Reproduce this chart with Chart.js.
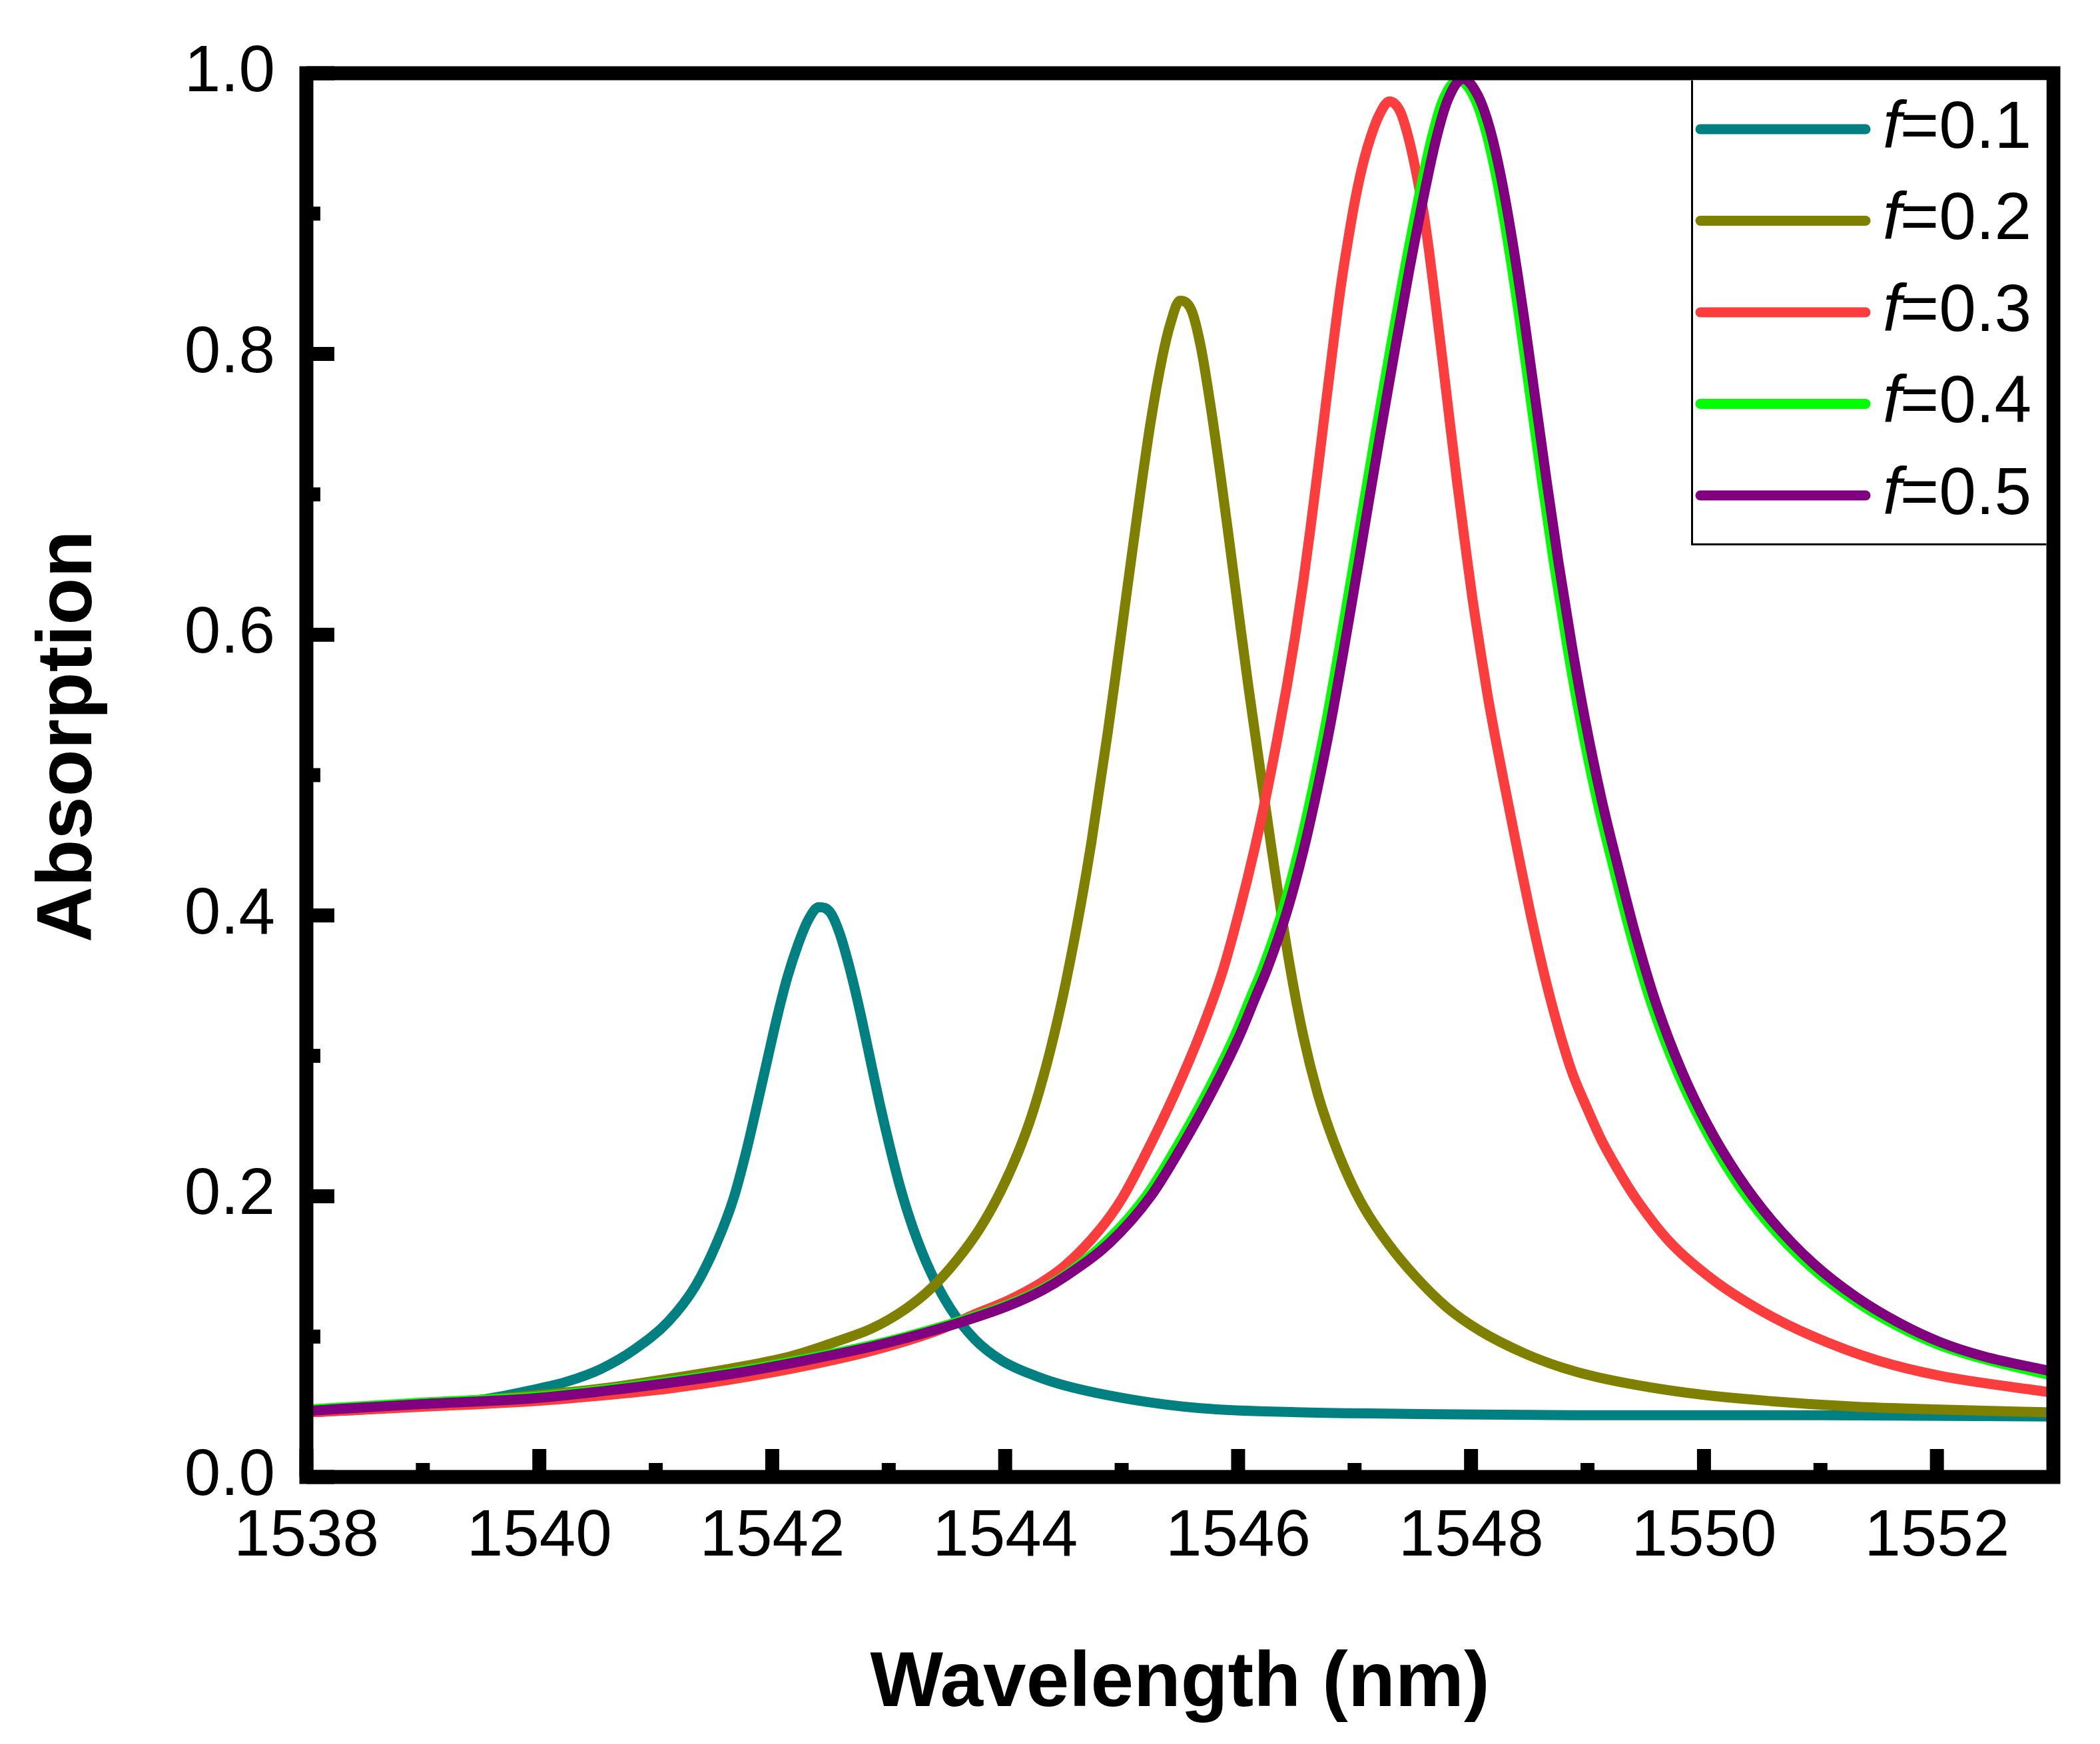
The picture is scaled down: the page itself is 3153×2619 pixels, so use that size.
<!DOCTYPE html>
<html>
<head>
<meta charset="utf-8">
<script src="https://cdn.jsdelivr.net/npm/chart.js@4.4.1/dist/chart.umd.min.js"></script>
<style>
    html, body { margin: 0; padding: 0; background: #ffffff; }
    #wrap { width: 3153px; height: 2619px; position: relative; }
</style>
</head>
<body>
<div id="wrap"><canvas id="absChart"></canvas></div>
<script>
// ==========================
// Data
// ==========================

const fValues = ["0.1", "0.2", "0.3", "0.4", "0.5"];
const seriesColors = ["#008080", "#808000", "#FC3D3D", "#00FF00", "#800080"];

const wlF01 = [1538, 1538.5, 1539, 1539.5, 1539.94, 1540.24, 1540.53, 1540.82, 1541.11, 1541.34, 1541.52, 1541.67, 1541.78, 1541.87, 1541.96, 1542.04, 1542.13, 1542.22, 1542.31, 1542.4, 1542.5, 1542.58, 1542.66, 1542.75, 1542.83, 1542.92, 1543.01, 1543.1, 1543.21, 1543.36, 1543.53, 1543.74, 1543.97, 1544.26, 1544.52, 1545.1, 1545.68, 1546.56, 1547.44, 1548.89, 1551, 1553];
const absF01 = [0.046, 0.048, 0.051, 0.055, 0.062, 0.068, 0.077, 0.091, 0.111, 0.136, 0.166, 0.199, 0.233, 0.265, 0.298, 0.327, 0.356, 0.379, 0.397, 0.406, 0.402, 0.387, 0.364, 0.333, 0.302, 0.267, 0.235, 0.206, 0.177, 0.146, 0.120, 0.098, 0.083, 0.072, 0.065, 0.055, 0.049, 0.046, 0.045, 0.044, 0.044, 0.043];

const wlF02 = [1538, 1539, 1539.94, 1540.53, 1541.11, 1541.69, 1542.16, 1542.57, 1542.86, 1543.15, 1543.36, 1543.59, 1543.79, 1543.97, 1544.12, 1544.23, 1544.35, 1544.44, 1544.52, 1544.65, 1544.74, 1544.88, 1544.95, 1545.05, 1545.15, 1545.25, 1545.35, 1545.42, 1545.5, 1545.6, 1545.68, 1545.76, 1545.85, 1545.93, 1546.01, 1546.09, 1546.15, 1546.29, 1546.44, 1546.56, 1546.68, 1546.79, 1546.94, 1547.08, 1547.29, 1547.52, 1547.79, 1548.08, 1548.46, 1548.78, 1549.09, 1549.85, 1550.58, 1551.31, 1552.03, 1553];
const absF02 = [0.046, 0.052, 0.058, 0.063, 0.070, 0.078, 0.086, 0.097, 0.106, 0.120, 0.134, 0.155, 0.178, 0.205, 0.233, 0.258, 0.292, 0.322, 0.352, 0.408, 0.452, 0.530, 0.572, 0.634, 0.695, 0.752, 0.798, 0.822, 0.838, 0.831, 0.805, 0.765, 0.713, 0.663, 0.612, 0.562, 0.527, 0.446, 0.366, 0.314, 0.274, 0.246, 0.215, 0.192, 0.166, 0.143, 0.121, 0.104, 0.088, 0.078, 0.071, 0.060, 0.054, 0.050, 0.048, 0.046];

const wlF03 = [1538, 1539, 1539.94, 1540.53, 1541.11, 1541.69, 1542.28, 1542.86, 1543.44, 1543.74, 1544.03, 1544.32, 1544.52, 1544.81, 1545.0, 1545.2, 1545.45, 1545.68, 1545.87, 1546.01, 1546.14, 1546.24, 1546.33, 1546.42, 1546.49, 1546.56, 1546.62, 1546.69, 1546.75, 1546.82, 1546.88, 1546.95, 1547.01, 1547.08, 1547.14, 1547.21, 1547.3, 1547.39, 1547.46, 1547.52, 1547.59, 1547.64, 1547.69, 1547.75, 1547.82, 1547.88, 1547.95, 1548.01, 1548.08, 1548.14, 1548.21, 1548.28, 1548.39, 1548.54, 1548.68, 1548.86, 1549.0, 1549.12, 1549.26, 1549.41, 1549.7, 1550.07, 1550.5, 1550.94, 1551.49, 1552.03, 1553];
const absF03 = [0.046, 0.050, 0.054, 0.058, 0.063, 0.070, 0.079, 0.090, 0.105, 0.116, 0.126, 0.139, 0.151, 0.176, 0.198, 0.229, 0.272, 0.317, 0.361, 0.403, 0.447, 0.485, 0.523, 0.564, 0.599, 0.638, 0.675, 0.721, 0.762, 0.809, 0.847, 0.884, 0.912, 0.938, 0.955, 0.970, 0.980, 0.973, 0.955, 0.933, 0.902, 0.873, 0.840, 0.799, 0.750, 0.709, 0.664, 0.627, 0.589, 0.558, 0.526, 0.496, 0.450, 0.390, 0.341, 0.290, 0.262, 0.240, 0.219, 0.199, 0.168, 0.141, 0.118, 0.100, 0.083, 0.072, 0.060];

const wlF04 = [1538, 1539, 1539.94, 1540.53, 1541.11, 1541.69, 1542.28, 1542.86, 1543.15, 1543.61, 1544.03, 1544.32, 1544.52, 1544.86, 1545.21, 1545.48, 1545.74, 1545.97, 1546.11, 1546.21, 1546.38, 1546.52, 1546.64, 1546.75, 1546.91, 1547.04, 1547.17, 1547.3, 1547.43, 1547.56, 1547.66, 1547.76, 1547.89, 1548.02, 1548.12, 1548.22, 1548.32, 1548.42, 1548.51, 1548.61, 1548.71, 1548.83, 1548.94, 1549.08, 1549.23, 1549.37, 1549.55, 1549.77, 1549.99, 1550.25, 1550.54, 1550.9, 1551.27, 1551.63, 1551.99, 1552.36, 1553];
const absF04 = [0.048, 0.053, 0.057, 0.062, 0.068, 0.075, 0.084, 0.094, 0.100, 0.111, 0.123, 0.134, 0.144, 0.167, 0.200, 0.236, 0.275, 0.314, 0.342, 0.362, 0.403, 0.446, 0.490, 0.535, 0.610, 0.674, 0.738, 0.800, 0.860, 0.915, 0.953, 0.981, 0.995, 0.984, 0.961, 0.925, 0.878, 0.823, 0.769, 0.709, 0.652, 0.590, 0.539, 0.483, 0.432, 0.387, 0.337, 0.289, 0.251, 0.214, 0.182, 0.151, 0.127, 0.109, 0.095, 0.085, 0.072];

const wlF05 = [1538, 1539, 1539.94, 1540.53, 1541.11, 1541.69, 1542.28, 1542.86, 1543.15, 1543.61, 1544.03, 1544.32, 1544.52, 1544.9, 1545.25, 1545.52, 1545.78, 1546.01, 1546.15, 1546.25, 1546.42, 1546.56, 1546.68, 1546.79, 1546.95, 1547.08, 1547.21, 1547.34, 1547.47, 1547.6, 1547.7, 1547.8, 1547.93, 1548.06, 1548.16, 1548.26, 1548.36, 1548.46, 1548.55, 1548.65, 1548.75, 1548.87, 1548.98, 1549.12, 1549.27, 1549.41, 1549.59, 1549.81, 1550.03, 1550.29, 1550.58, 1550.94, 1551.31, 1551.67, 1552.03, 1552.4, 1553];
const absF05 = [0.047, 0.052, 0.056, 0.061, 0.067, 0.074, 0.083, 0.093, 0.099, 0.110, 0.122, 0.133, 0.143, 0.167, 0.200, 0.236, 0.275, 0.314, 0.342, 0.362, 0.403, 0.446, 0.490, 0.535, 0.610, 0.674, 0.738, 0.800, 0.860, 0.915, 0.953, 0.981, 0.996, 0.984, 0.961, 0.925, 0.878, 0.823, 0.769, 0.709, 0.652, 0.590, 0.539, 0.483, 0.432, 0.387, 0.337, 0.289, 0.251, 0.215, 0.183, 0.152, 0.128, 0.110, 0.096, 0.086, 0.075];

const xMajorTicks = [1538, 1540, 1542, 1544, 1546, 1548, 1550, 1552];
const xMinorTicks = [1539, 1541, 1543, 1545, 1547, 1549, 1551];
const yMajorTicks = [0, 0.2, 0.4, 0.6, 0.8, 1.0];
const yMinorTicks = [0.1, 0.3, 0.5, 0.7, 0.9];

// ==========================
// Styling
// ==========================

const FONT = "'Liberation Sans', Arial, sans-serif";
const FRAME_W = 21;

const wavelengths = [wlF01, wlF02, wlF03, wlF04, wlF05];
const absorptions = [absF01, absF02, absF03, absF04, absF05];

const datasets = fValues.map((f, i) => ({
    label: "f=" + f,
    data: wavelengths[i].map((w, k) => ({ x: w, y: absorptions[i][k] })),
    borderColor: seriesColors[i],
    backgroundColor: seriesColors[i],
    borderWidth: 15,
    pointRadius: 0,
    cubicInterpolationMode: "monotone",
    fill: false,
    order: fValues.length - i
}));

// ==========================
// Frame + inward ticks
// ==========================

const framePlugin = {
    id: "frame",
    afterDatasetsDraw(chart) {
        const { ctx, chartArea: a, scales } = chart;
        const x = scales.x, y = scales.y;
        ctx.save();
        ctx.strokeStyle = "#000";
        ctx.lineWidth = FRAME_W;
        ctx.lineJoin = "miter";
        ctx.strokeRect(a.left, a.top, a.right - a.left, a.bottom - a.top);

        const seg = (x1, y1, x2, y2) => {
            ctx.beginPath();
            ctx.moveTo(x1, y1);
            ctx.lineTo(x2, y2);
            ctx.stroke();
        };
        ctx.lineCap = "butt";
        xMajorTicks.forEach(v => {
            const px = x.getPixelForValue(v);
            seg(px, a.bottom, px, a.bottom - 42);
        });
        xMinorTicks.forEach(v => {
            const px = x.getPixelForValue(v);
            seg(px, a.bottom, px, a.bottom - 21);
        });
        yMajorTicks.forEach(v => {
            const py = y.getPixelForValue(v);
            seg(a.left, py, a.left + 42, py);
        });
        yMinorTicks.forEach(v => {
            const py = y.getPixelForValue(v);
            seg(a.left, py, a.left + 21, py);
        });
        ctx.restore();
    }
};

// ==========================
// Legend (inside top-right)
// ==========================

const legendPlugin = {
    id: "insideLegend",
    afterDraw(chart) {
        const { ctx, chartArea: a } = chart;
        const boxL = 2539;
        const boxT = a.top + FRAME_W / 2;
        const boxR = a.right - FRAME_W / 2;
        const boxB = 819;
        ctx.save();
        ctx.fillStyle = "#fff";
        ctx.fillRect(boxL, boxT, boxR - boxL, boxB - boxT);
        ctx.strokeStyle = "#000";
        ctx.lineWidth = 3;
        ctx.beginPath();
        ctx.moveTo(boxR, boxB - 1.5);
        ctx.lineTo(boxL + 1.5, boxB - 1.5);
        ctx.lineTo(boxL + 1.5, boxT);
        ctx.stroke();

        chart.data.datasets.forEach((ds, i) => {
            const cy = 194 + i * 137.5;
            ctx.strokeStyle = ds.borderColor;
            ctx.lineWidth = 15;
            ctx.lineCap = "round";
            ctx.beginPath();
            ctx.moveTo(2553, cy);
            ctx.lineTo(2801, cy);
            ctx.stroke();

            ctx.fillStyle = "#000";
            ctx.textBaseline = "middle";
            ctx.textAlign = "left";
            ctx.font = "italic 100px " + FONT;
            ctx.fillText("f", 2827, cy);
            const fw = ctx.measureText("f").width;
            ctx.font = "100px " + FONT;
            ctx.fillText("=" + fValues[i], 2827 + fw - 2, cy);
        });
        ctx.restore();
    }
};

// ==========================
// Chart
// ==========================

new Chart(document.getElementById("absChart"), {
    type: "line",
    data: { datasets: datasets },
    options: {
        responsive: true,
        maintainAspectRatio: false,
        devicePixelRatio: 1,
        animation: false,
        layout: { padding: { top: 110, right: 70, left: 0, bottom: 0 } },
        plugins: {
            legend: { display: false },
            tooltip: { enabled: false }
        },
        scales: {
            x: {
                type: "linear",
                min: 1538,
                max: 1553,
                grid: { display: false, drawTicks: false },
                border: { display: false },
                afterBuildTicks: scale => {
                    scale.ticks = xMajorTicks.map(v => ({ value: v }));
                },
                afterFit: scale => { scale.height = 401; },
                ticks: {
                    autoSkip: false,
                    maxRotation: 0,
                    padding: 32,
                    color: "#000",
                    font: { family: FONT, size: 98 },
                    callback: v => String(v)
                },
                title: {
                    display: true,
                    text: "Wavelength (nm)",
                    color: "#000",
                    font: { family: FONT, size: 116, weight: "bold" },
                    padding: { top: 0, bottom: 19 }
                }
            },
            y: {
                type: "linear",
                min: 0,
                max: 1,
                grid: { display: false, drawTicks: false },
                border: { display: false },
                afterBuildTicks: scale => {
                    scale.ticks = yMajorTicks.map(v => ({ value: v }));
                },
                afterFit: scale => { scale.width = 460; },
                ticks: {
                    autoSkip: false,
                    padding: 47,
                    color: "#000",
                    font: { family: FONT, size: 98 },
                    callback: v => Number(v).toFixed(1)
                },
                title: {
                    display: true,
                    // leading em space nudges the rotated title up a little, as in the figure
                    text: "\u2003Absorption",
                    color: "#000",
                    font: { family: FONT, size: 116, weight: "bold" },
                    padding: { top: 35, bottom: 0 }
                }
            }
        }
    },
    plugins: [framePlugin, legendPlugin]
});
</script>
</body>
</html>
